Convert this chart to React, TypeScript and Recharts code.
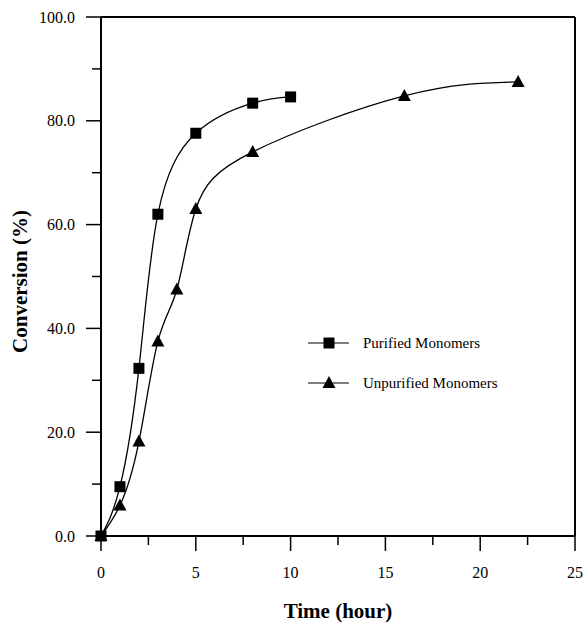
import React from 'react';
import { LineChart, Line, XAxis, YAxis, ReferenceLine, Legend } from 'recharts';

const purifiedTime = [0, 1, 2, 3, 5, 8, 10];
const purifiedConv = [0, 9.5, 32.3, 62.0, 77.6, 83.4, 84.6];
const unpurifiedTime = [0, 1, 2, 3, 4, 5, 8, 16, 22];
const unpurifiedConv = [0, 5.9, 18.2, 37.5, 47.5, 63.0, 74.0, 84.8, 87.5];
const xTicks = [0, 2.5, 5, 7.5, 10, 12.5, 15, 17.5, 20, 22.5, 25];
const yTicks = [0, 10, 20, 30, 40, 50, 60, 70, 80, 90, 100];
const seriesNames = ['Purified Monomers', 'Unpurified Monomers'];

const purified = purifiedTime.map((x, i) => ({ x, y: purifiedConv[i] }));
const unpurified = unpurifiedTime.map((x, i) => ({ x, y: unpurifiedConv[i] }));

const FONT = '"Liberation Serif", "Times New Roman", serif';

const SquareDot = (props: any) => {
  const { cx, cy } = props;
  if (cx == null || cy == null) return null;
  return <rect x={cx - 5.5} y={cy - 5.5} width={11} height={11} fill="#000" />;
};

const TriangleDot = (props: any) => {
  const { cx, cy } = props;
  if (cx == null || cy == null) return null;
  return <polygon points={`${cx},${cy - 7} ${cx - 6.5},${cy + 5} ${cx + 6.5},${cy + 5}`} fill="#000" />;
};

const XTick = (props: any) => {
  const { x, y, payload } = props;
  const v = payload.value;
  const major = v % 5 === 0;
  return (
    <g>
      <line x1={x} x2={x} y1={y} y2={y + (major ? 15 : 9)} stroke="#000" strokeWidth={1.5} />
      {major && (
        <text x={x} y={y + 42} textAnchor="middle" fontFamily={FONT} fontSize={16} fill="#000">
          {v}
        </text>
      )}
    </g>
  );
};

const YTick = (props: any) => {
  const { x, y, payload } = props;
  const v = payload.value;
  const major = v % 20 === 0;
  return (
    <g>
      <line x1={x} x2={x - (major ? 15 : 9)} y1={y} y2={y} stroke="#000" strokeWidth={1.5} />
      {major && (
        <text x={x - 26} y={y + 5.5} textAnchor="end" fontFamily={FONT} fontSize={16} fill="#000">
          {v.toFixed(1)}
        </text>
      )}
    </g>
  );
};

const LegendContent = () => (
  <svg width={240} height={80}>
    <line x1={8} x2={49} y1={23} y2={23} stroke="#000" strokeWidth={1.2} />
    <rect x={29 - 5.5} y={23 - 5.5} width={11} height={11} fill="#000" />
    <text x={63} y={28} fontFamily={FONT} fontSize={15} fill="#000">{seriesNames[0]}</text>
    <line x1={8} x2={49} y1={63} y2={63} stroke="#000" strokeWidth={1.2} />
    <polygon points={`29,56 22.5,68 35.5,68`} fill="#000" />
    <text x={63} y={68} fontFamily={FONT} fontSize={15} fill="#000">{seriesNames[1]}</text>
  </svg>
);

export default function App() {
  return (
    <div style={{ position: 'absolute', left: 0, top: 0 }}>
      <LineChart width={585} height={624} margin={{ top: 17, right: 10, bottom: 0, left: 0 }}>
        <XAxis
          type="number"
          dataKey="x"
          domain={[0, 25]}
          ticks={xTicks}
          interval={0}
          tickSize={0}
          tickMargin={0}
          tickLine={false}
          tick={<XTick />}
          height={88}
          axisLine={{ stroke: '#000', strokeWidth: 2 }}
          label={{ value: 'Time (hour)', position: 'insideBottom', offset: 6, fontFamily: FONT, fontSize: 21, fontWeight: 'bold', fill: '#000' }}
        />
        <YAxis
          type="number"
          dataKey="y"
          domain={[0, 100]}
          ticks={yTicks}
          interval={0}
          tickSize={0}
          tickMargin={0}
          tickLine={false}
          tick={<YTick />}
          width={101}
          axisLine={{ stroke: '#000', strokeWidth: 2 }}
          label={{ value: 'Conversion (%)', angle: -90, position: 'insideLeft', offset: 20, dy: 5, style: { textAnchor: 'middle' }, fontFamily: FONT, fontSize: 21, fontWeight: 'bold', fill: '#000' }}
        />
        <ReferenceLine y={100} stroke="#000" strokeWidth={2} />
        <ReferenceLine x={25} stroke="#000" strokeWidth={2} />
        <Legend
          layout="horizontal"
          verticalAlign="middle"
          align="center"
          content={<LegendContent />}
          wrapperStyle={{ position: 'absolute', left: 300, top: 320, width: 240, height: 80 }}
        />
        <Line
          data={purified}
          dataKey="y"
          type="natural"
          stroke="#000"
          strokeWidth={1.3}
          dot={<SquareDot />}
          isAnimationActive={false}
          name={seriesNames[0]}
        />
        <Line
          data={unpurified}
          dataKey="y"
          type="natural"
          stroke="#000"
          strokeWidth={1.3}
          dot={<TriangleDot />}
          isAnimationActive={false}
          name={seriesNames[1]}
        />
      </LineChart>
    </div>
  );
}
